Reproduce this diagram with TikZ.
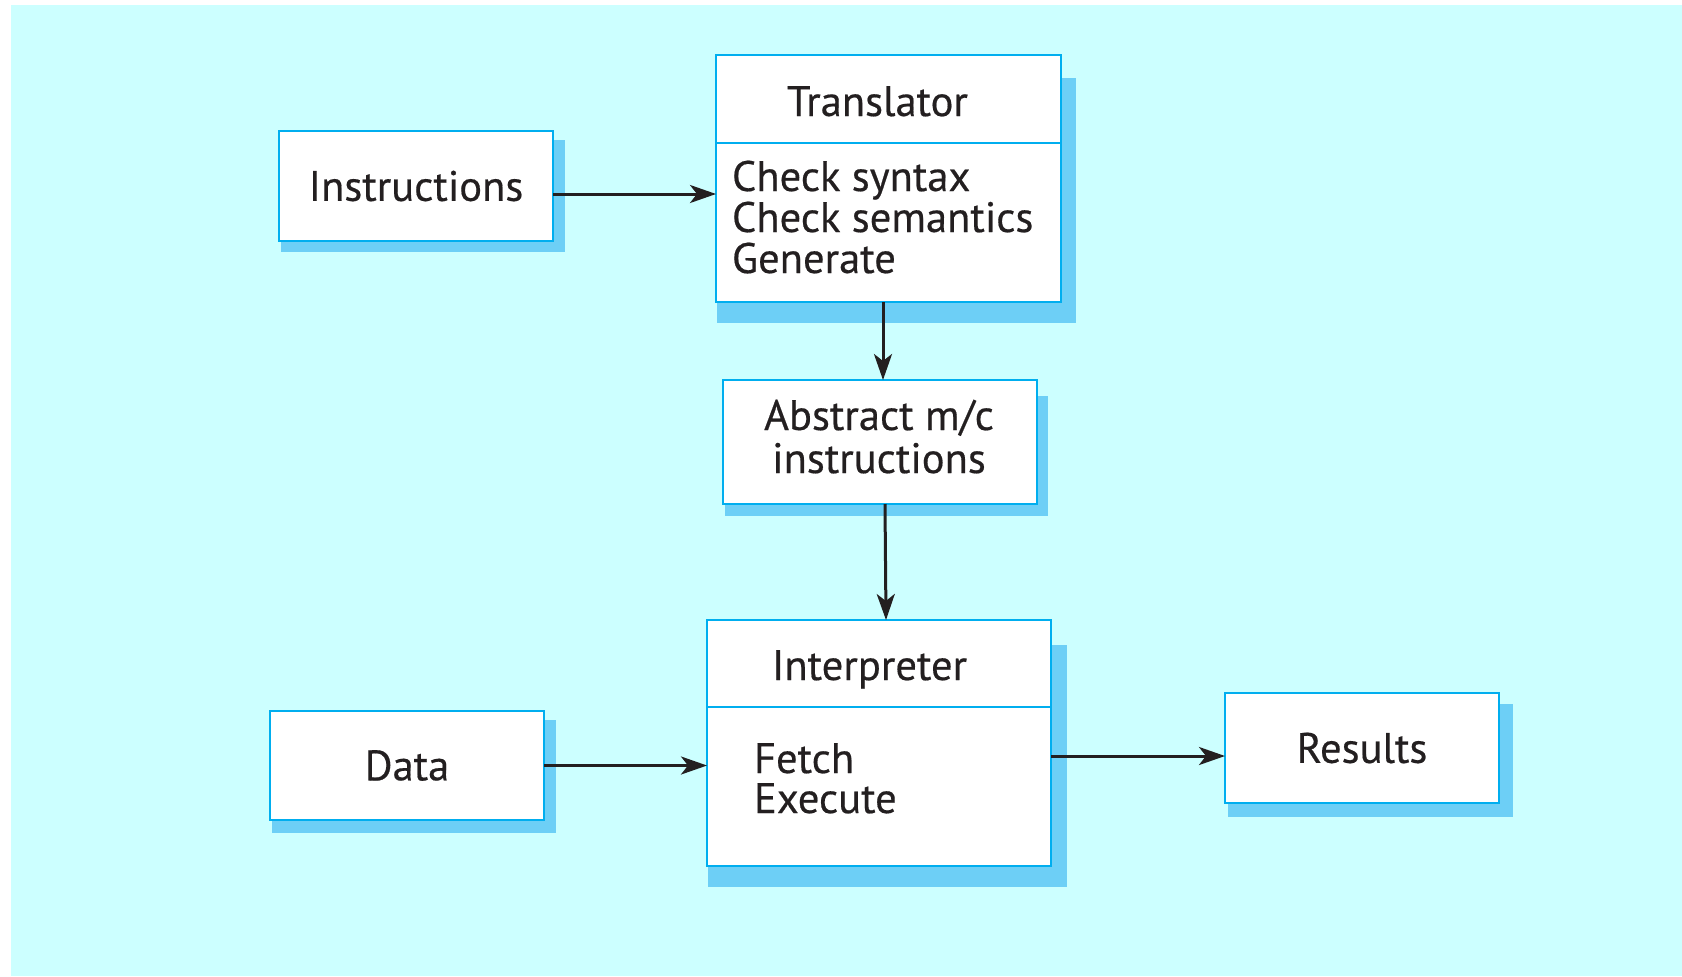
\documentclass[tikz,border=0pt]{standalone}
\usepackage{fontspec}
\setmainfont{PT Sans}[FakeBold=0.4]
\usetikzlibrary{arrows.meta,calc,backgrounds}
\definecolor{bgcyan}{HTML}{CCFFFF}
\definecolor{dropblue}{HTML}{6DCFF6}
\definecolor{edge}{HTML}{00AEEF}
\definecolor{ink}{HTML}{231F20}

\begin{document}
\begin{tikzpicture}[x=0.5pt,y=-0.5pt,
  box/.style={draw=edge,fill=white,line width=1.3pt,rectangle,
    inner sep=0pt,outer sep=0pt,text=ink,
    font=\fontsize{21.3}{21.5}\selectfont,align=center},
  lbl/.style={inner sep=0pt,outer sep=0pt,text=ink,
    font=\fontsize{21.3}{20.5}\selectfont},
  divider/.style={draw=edge,line width=1.3pt},
  arr/.style={draw=ink,line width=1.5pt,
    -{Stealth[length=13pt,width=9pt,inset=3.5pt]}}]

\useasboundingbox (0,0) rectangle (1682,976);

% boxes
\node[box,minimum width=137pt,minimum height=55pt] (instr) at (416,186) {Instructions};
\node[box,minimum width=172.5pt,minimum height=123.5pt] (transl) at (888.5,178.5) {};
\node[box,minimum width=157pt,minimum height=62pt] (abs) at (880,442) {};
\node[box,minimum width=172pt,minimum height=123pt] (interp) at (879,743) {};
\node[box,minimum width=137pt,minimum height=54.5pt] (data) at (407,765.5) {Data};
\node[box,minimum width=137pt,minimum height=55pt] (results) at (1362,748) {Results};

% compartment lines
\draw[divider] ($(transl.north west)+(0,88)$) -- ($(transl.north east)+(0,88)$);
\draw[divider] ($(interp.north west)+(0,87)$) -- ($(interp.north east)+(0,87)$);

% box texts (anchored on the baseline of the last line)
\node[lbl,anchor=base,align=center,font=\fontsize{21.3}{21.5}\selectfont] (abstext) at (879,473) {Abstract m/c\\instructions};
\node[lbl,anchor=base west] (transltitle) at (787,116) {Translator};
\node[lbl,anchor=base west,align=left] (translbody) at (732,273) {Check syntax\\Check semantics\\Generate};
\node[lbl,anchor=base west] (interptitle) at (772,680) {Interpreter};
\node[lbl,anchor=base west,align=left,font=\fontsize{21.3}{20}\selectfont] (interpbody) at (754,813) {Fetch\\Execute};

% connectors
\draw[arr] ([yshift=-4pt]instr.east) -- ([yshift=-4pt]instr.east -| transl.west);
\draw[arr] ([xshift=-2.75pt]transl.south) -- ([xshift=-2.75pt]transl.south |- abs.north);
\draw[arr] ([xshift=2.5pt]abs.south) -- ([xshift=3.5pt]interp.north);
\draw[arr] (data.east) -- (data.east -| interp.west);
\draw[arr] ([yshift=-6.5pt]interp.east) -- ([yshift=-6.5pt]interp.east -| results.west);

% backdrop and drop shadows
\begin{scope}[on background layer]
  \fill[bgcyan] (11,5) rectangle (1682,976);
  \fill[dropblue] ($(instr.north west)+(2,9)$) rectangle ($(instr.south east)+(12,11)$);
  \fill[dropblue] ($(transl.north west)+(1,23)$) rectangle ($(transl.south east)+(15,21)$);
  \fill[dropblue] ($(abs.north west)+(2,16)$) rectangle ($(abs.south east)+(11,12)$);
  \fill[dropblue] ($(interp.north west)+(1,25)$) rectangle ($(interp.south east)+(16,21)$);
  \fill[dropblue] ($(data.north west)+(2,9)$) rectangle ($(data.south east)+(12,13)$);
  \fill[dropblue] ($(results.north west)+(3,11)$) rectangle ($(results.south east)+(14,14)$);
\end{scope}
\end{tikzpicture}
\end{document}
